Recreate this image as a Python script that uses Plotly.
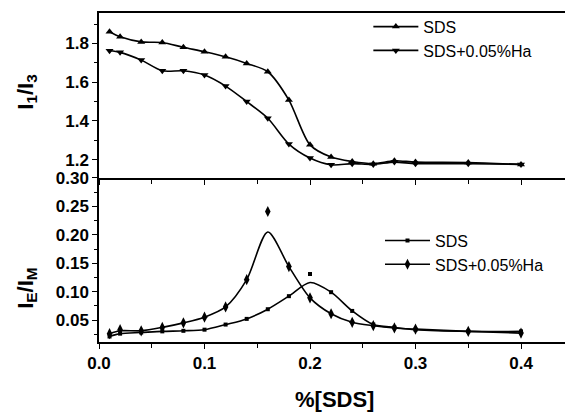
import plotly.graph_objects as go

# ---------------- data ----------------
x_sds = [0.01, 0.02, 0.04, 0.06, 0.08, 0.10, 0.12, 0.14, 0.16, 0.18, 0.20, 0.22,
         0.24, 0.26, 0.28, 0.30, 0.35, 0.40]

# top panel: I1/I3
i13_sds = [1.860, 1.834, 1.808, 1.805, 1.780, 1.757, 1.731, 1.697, 1.654, 1.508, 1.277, 1.214,
           1.191, 1.180, 1.195, 1.188, 1.186, 1.176]
i13_ha = [1.762, 1.754, 1.714, 1.659, 1.659, 1.637, 1.580, 1.500, 1.414, 1.281, 1.209, 1.174,
          1.180, 1.176, 1.188, 1.180, 1.180, 1.176]

# bottom panel: IE/IM measured points
ie_sds = [0.021, 0.026, 0.028, 0.030, 0.031, 0.033, 0.042, 0.052, 0.069, 0.092, 0.131, 0.099,
          0.066, 0.042, 0.037, 0.033, 0.030, 0.030]
ie_ha = [0.026, 0.033, 0.031, 0.037, 0.045, 0.055, 0.073, 0.121, 0.241, 0.144, 0.089, 0.061,
         0.046, 0.040, 0.036, 0.034, 0.030, 0.027]
# bottom panel: fitted curves
ie_sds_curve = [0.021, 0.026, 0.028, 0.030, 0.031, 0.033, 0.042, 0.052, 0.069, 0.092, 0.116, 0.099,
                0.066, 0.042, 0.037, 0.033, 0.030, 0.030]
ie_ha_curve = [0.026, 0.031, 0.031, 0.037, 0.045, 0.055, 0.073, 0.121, 0.205, 0.144, 0.089, 0.061,
               0.046, 0.040, 0.036, 0.034, 0.030, 0.027]

names = ["SDS", "SDS+0.05%Ha"]

FONT = "Liberation Sans, Arial, sans-serif"
BLACK = "black"

fig = go.Figure()

# ---- top panel ----
fig.add_trace(go.Scatter(x=x_sds, y=i13_sds, name=names[0], mode="lines+markers",
                         line=dict(color=BLACK, width=1.6, shape="spline", smoothing=0.8),
                         marker=dict(symbol="triangle-up", size=7, color=BLACK),
                         xaxis="x2", yaxis="y2", legend="legend"))
fig.add_trace(go.Scatter(x=x_sds, y=i13_ha, name=names[1], mode="lines+markers",
                         line=dict(color=BLACK, width=1.6, shape="spline", smoothing=0.8),
                         marker=dict(symbol="triangle-down", size=7, color=BLACK),
                         xaxis="x2", yaxis="y2", legend="legend"))

# ---- bottom panel ----
sym_b = ["square", "diamond-tall"]
size_b = [4, 8]
for curve, pts, nm, sy, sz in [(ie_sds_curve, ie_sds, names[0], sym_b[0], size_b[0]),
                               (ie_ha_curve, ie_ha, names[1], sym_b[1], size_b[1])]:
    fig.add_trace(go.Scatter(x=x_sds, y=curve, mode="lines", showlegend=False,
                             line=dict(color=BLACK, width=1.6, shape="spline", smoothing=0.8),
                             xaxis="x", yaxis="y"))
    fig.add_trace(go.Scatter(x=x_sds, y=pts, mode="markers", showlegend=False,
                             marker=dict(symbol=sy, size=sz, color=BLACK),
                             xaxis="x", yaxis="y"))
    fig.add_trace(go.Scatter(x=[None], y=[None], name=nm, mode="lines+markers",
                             line=dict(color=BLACK, width=1.6),
                             marker=dict(symbol=sy, size=sz, color=BLACK),
                             xaxis="x", yaxis="y", legend="legend2"))

tickfont = dict(family=FONT, size=17, color=BLACK, weight="bold")
common_x = dict(range=[0, 0.4417], showgrid=False, zeroline=False, showline=True,
                linecolor=BLACK, linewidth=1.5, ticks="outside", ticklen=5, tickwidth=1.3,
                tickcolor=BLACK, tick0=0, dtick=0.1,
                minor=dict(ticks="outside", ticklen=4, dtick=0.05, tickcolor=BLACK, tickwidth=1.2))
common_y = dict(showgrid=False, zeroline=False, showline=True, linecolor=BLACK, linewidth=1.5,
                ticks="outside", ticklen=5, tickwidth=1.3, tickcolor=BLACK, tickfont=tickfont)

DIV = 0.4985
fig.update_layout(
    width=565, height=412,
    margin=dict(l=99, r=0, t=13, b=70),
    paper_bgcolor="white", plot_bgcolor="white",
    font=dict(family=FONT, color=BLACK),
    xaxis=dict(**common_x, domain=[0, 1], anchor="y", tickformat=".1f", tickfont=tickfont),
    yaxis=dict(**common_y, domain=[0, DIV], range=[0.0113, 0.30], tick0=0.05, dtick=0.05,
               tickformat=".2f",
               minor=dict(ticks="outside", ticklen=3, dtick=0.025, tickcolor=BLACK)),
    xaxis2=dict(**common_x, domain=[0, 1], anchor="y2", matches="x", showticklabels=False,
                mirror=True),
    yaxis2=dict(**common_y, domain=[DIV, 1], range=[1.106, 1.957], tick0=1.2, dtick=0.2,
                tickformat=".1f",
                minor=dict(ticks="outside", ticklen=3, dtick=0.1, tickcolor=BLACK)),
    legend=dict(x=0.578, y=1.01, xanchor="left", yanchor="top", bgcolor="rgba(0,0,0,0)",
                font=dict(family=FONT, size=16, color=BLACK), itemwidth=45,
                tracegroupgap=0),
    legend2=dict(x=0.603, y=0.36, xanchor="left", yanchor="top", bgcolor="rgba(0,0,0,0)",
                 font=dict(family=FONT, size=16, color=BLACK), itemwidth=45,
                 tracegroupgap=0),
    annotations=[
        dict(text="I<sub>1</sub>/I<sub>3</sub>", xref="paper", yref="paper",
             x=-0.155, y=0.76, xanchor="center", yanchor="middle", textangle=-90,
             showarrow=False, font=dict(family=FONT, size=22, color=BLACK, weight="bold")),
        dict(text="I<sub>E</sub>/I<sub>M</sub>", xref="paper", yref="paper",
             x=-0.155, y=0.164, xanchor="center", yanchor="middle", textangle=-90,
             showarrow=False, font=dict(family=FONT, size=22, color=BLACK, weight="bold")),
        dict(text="%[SDS]", xref="paper", yref="paper",
             x=0.506, y=-0.176, xanchor="center", yanchor="middle",
             showarrow=False, font=dict(family=FONT, size=22, color=BLACK, weight="bold")),
    ],
)

fig.write_html("out.html", config={"displayModeBar": False},
               post_script="document.body.style.margin='0';document.body.style.overflow='hidden';")
